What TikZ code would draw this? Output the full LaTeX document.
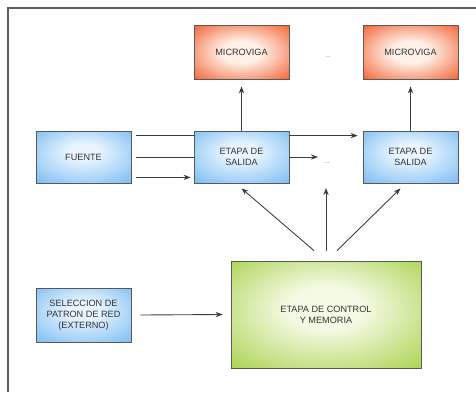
\documentclass[tikz,border=0pt]{standalone}
\usepackage{fontspec}
\setsansfont{Liberation Sans}
\usepackage{tikz}
\usetikzlibrary{positioning, arrows.meta, calc, shadows}

\definecolor{vigaOut}{RGB}{240,78,24}
\definecolor{vigaIn}{RGB}{255,240,232}
\definecolor{etapaOut}{RGB}{104,178,240}
\definecolor{etapaIn}{RGB}{232,245,255}
\definecolor{ctrlOut}{RGB}{150,200,40}
\definecolor{ctrlIn}{RGB}{244,250,228}
\definecolor{lineGray}{RGB}{60,60,60}
\definecolor{frameGray}{RGB}{95,95,95}

\pgfdeclareradialshading{vigashade}{\pgfpoint{0bp}{0bp}}{color(0bp)=(vigaIn); color(10bp)=(vigaIn); color(40bp)=(vigaOut); color(50bp)=(vigaOut)}
\pgfdeclareradialshading{etapashade}{\pgfpoint{0bp}{6bp}}{color(0bp)=(etapaIn); color(8bp)=(etapaIn); color(42bp)=(etapaOut); color(50bp)=(etapaOut)}
\pgfdeclareradialshading{ctrlshade}{\pgfpoint{0bp}{4bp}}{color(0bp)=(ctrlIn); color(10bp)=(ctrlIn); color(44bp)=(ctrlOut); color(50bp)=(ctrlOut)}

\begin{document}
\begin{tikzpicture}[
        x=0.02cm, y=-0.02cm,
        >={Stealth[length=4pt,width=3pt]}, % Arrowhead style
        box/.style={rectangle, draw=black!65, line width=0.45pt, align=center,
            font=\sffamily\fontsize{5.2}{6.2}\selectfont, text=black!80,
            drop shadow={opacity=0.25, shadow xshift=0.5pt, shadow yshift=-0.6pt}},
        viga/.style={box, shading=vigashade, minimum width=1.9cm, minimum height=1.08cm},
        etapa/.style={box, shading=etapashade, minimum width=1.9cm, minimum height=1.04cm},
        control/.style={box, shading=ctrlshade, minimum width=3.8cm, minimum height=2.14cm},
        dots/.style={inner sep=1pt, font=\sffamily\fontsize{4}{4}\selectfont, text=black!45},
        conn/.style={draw=lineGray, line width=0.5pt}
    ]

    \useasboundingbox (0,0) rectangle (476,392);

    % ==========================================
    % 1. FRAME
    % ==========================================
    \draw[frameGray, line width=1pt] (476,8) -- (8,8) -- (8,392);

    % ==========================================
    % 2. BLOCKS
    % ==========================================
    \node[viga]  (viga1)    at (241.5, 52)  {MICROVIGA};
    \node[viga]  (viga2)    at (410.5, 52)  {MICROVIGA};
    \node[dots]  (dots1)    at (328, 57)    {...};

    \node[etapa] (fuente)   at (83.5, 157)  {FUENTE};
    \node[etapa] (salida1)  at (241.5, 157) {ETAPA DE\\SALIDA};
    \node[etapa] (salida2)  at (410.5, 157) {ETAPA DE\\SALIDA};
    \node[dots]  (dots2)    at (327, 163)   {...};

    \node[etapa, minimum height=1.08cm] (seleccion) at (83.5, 315) {SELECCION DE\\PATRON DE RED\\(EXTERNO)};
    \node[control] (control) at (326, 314.5) {ETAPA DE CONTROL\\Y MEMORIA};

    \coordinate (dotsIn) at (326, 188);

    % ==========================================
    % 3. CONNECTIONS
    % ==========================================

    % Fuente -> Etapa de salida
    \draw[conn] ($(fuente.north east)+(5,5)$) -- ($(salida1.north west)+(0,5)$);
    \draw[conn] ($(fuente.east)+(5,0)$) -- (salida1.west);
    \draw[conn, ->] ($(fuente.south east)+(5,-6)$) -- ($(salida1.south west)+(-3,-6)$);

    % Etapa de salida -> siguiente etapa
    \draw[conn, ->] ($(salida1.north east)+(0,5)$) -- ($(salida2.north west)+(-5,5)$);
    \draw[conn, ->] (salida1.east) -- ($(salida1.east -| dots2.west)+(-4,0)$);

    % Etapa de salida -> Microviga
    \draw[conn, ->, shorten >=4pt] (salida1) -- (viga1);
    \draw[conn, ->, shorten >=4pt] (salida2) -- (viga2);

    % Control -> Etapas de salida
    \draw[conn, ->] ($(control.north)+(-12,-10)$) -- ($(salida1.south)+(0,5)$);
    \draw[conn, ->] ($(control.north)+(0,-10)$) -- (dotsIn);
    \draw[conn, ->] ($(control.north)+(11,-10)$) -- ($(salida2.south)+(-10,5)$);

    % Seleccion -> Control
    \draw[conn, ->] ($(seleccion.east)+(9,0)$) -- ($(control.west)+(-8,0)$);

\end{tikzpicture}
\end{document}
